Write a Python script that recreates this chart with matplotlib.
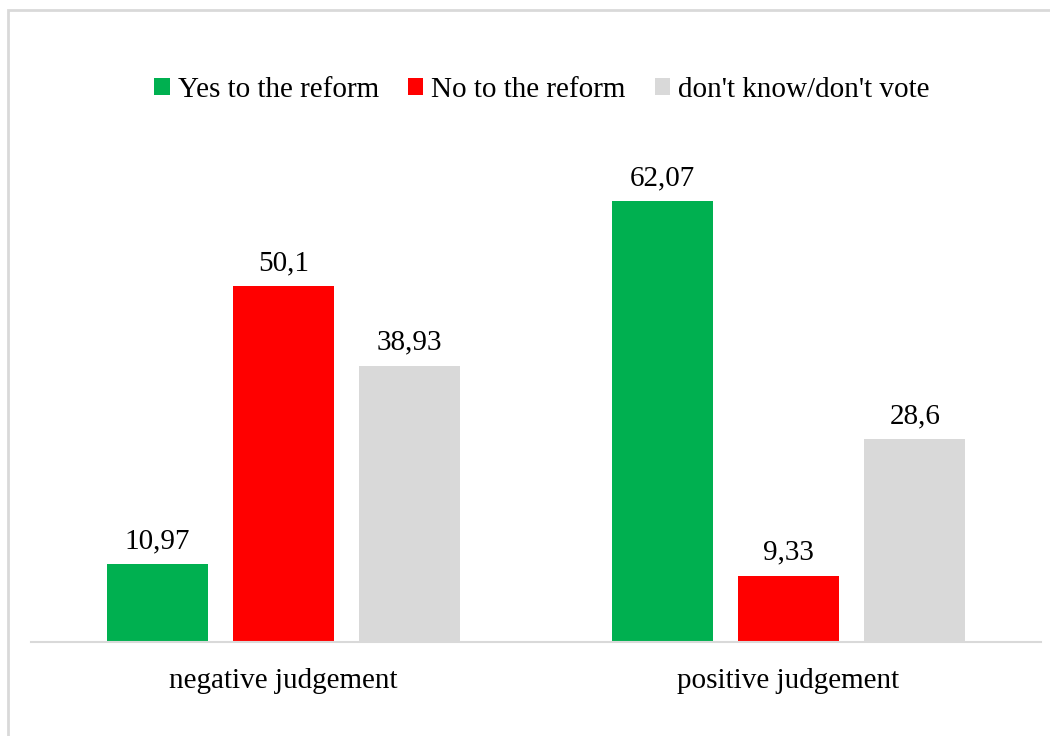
import matplotlib
matplotlib.use("Agg")
import matplotlib.pyplot as plt
from matplotlib.patches import Rectangle, Patch

categories = ["negative judgement", "positive judgement"]
series_names = ["Yes to the reform", "No to the reform", "don't know/don't vote"]
yes_vals = [10.97, 62.07]
no_vals = [50.1, 9.33]
dk_vals = [38.93, 28.6]
value_labels = [["10,97", "62,07"], ["50,1", "9,33"], ["38,93", "28,6"]]
colors = ["#00B050", "#FF0000", "#D9D9D9"]

plt.rcParams['font.family'] = ['Liberation Serif', 'DejaVu Serif']

W, H = 1050, 736
fig = plt.figure(figsize=(W / 100, H / 100), dpi=100)

# outer chart border (top and left visible)
fig.patches.append(Rectangle((8 / W, -0.1), 1.2, 1 - 10 / H + 0.1, transform=fig.transFigure,
                             fill=False, edgecolor="#D9D9D9", linewidth=2, zorder=0))

ax_left, ax_right, ax_bottom, ax_top = 31, 1041, 642, 148
ax = fig.add_axes([ax_left / W, 1 - ax_bottom / H, (ax_right - ax_left) / W, (ax_bottom - ax_top) / H])

all_vals = [yes_vals, no_vals, dk_vals]
offsets = [-0.25, 0.0, 0.25]
width = 0.2
x = list(range(len(categories)))
for vals, off, col, labs in zip(all_vals, offsets, colors, value_labels):
    xs = [xi + off for xi in x]
    ax.bar(xs, vals, width=width, color=col, zorder=2)
    for xi, v, lab in zip(xs, vals, labs):
        ax.annotate(lab, (xi, v), xytext=(0, 11.5), textcoords="offset points",
                    ha="center", va="baseline", fontsize=21, color="#000000")

ax.set_xlim(-0.5, 1.5)
ax.set_ylim(0, 69.6)
for s in ["top", "right", "left"]:
    ax.spines[s].set_visible(False)
ax.spines["bottom"].set_color("#D9D9D9")
ax.spines["bottom"].set_linewidth(1.5)
ax.set_yticks([])
ax.set_xticks(x)
ax.set_xticklabels(categories, fontsize=21)
ax.tick_params(axis="x", length=0, pad=19)
ax.set_facecolor("none")

handles = [Patch(facecolor=c, edgecolor="none") for c in colors]
fig.legend(handles, series_names, loc="center", bbox_to_anchor=(542 / W, 1 - 90 / H),
           ncol=3, frameon=False, fontsize=21, handlelength=0.52, handleheight=0.52,
           handletextpad=0.28, columnspacing=1.0)

fig.savefig("out.png", dpi=100)
